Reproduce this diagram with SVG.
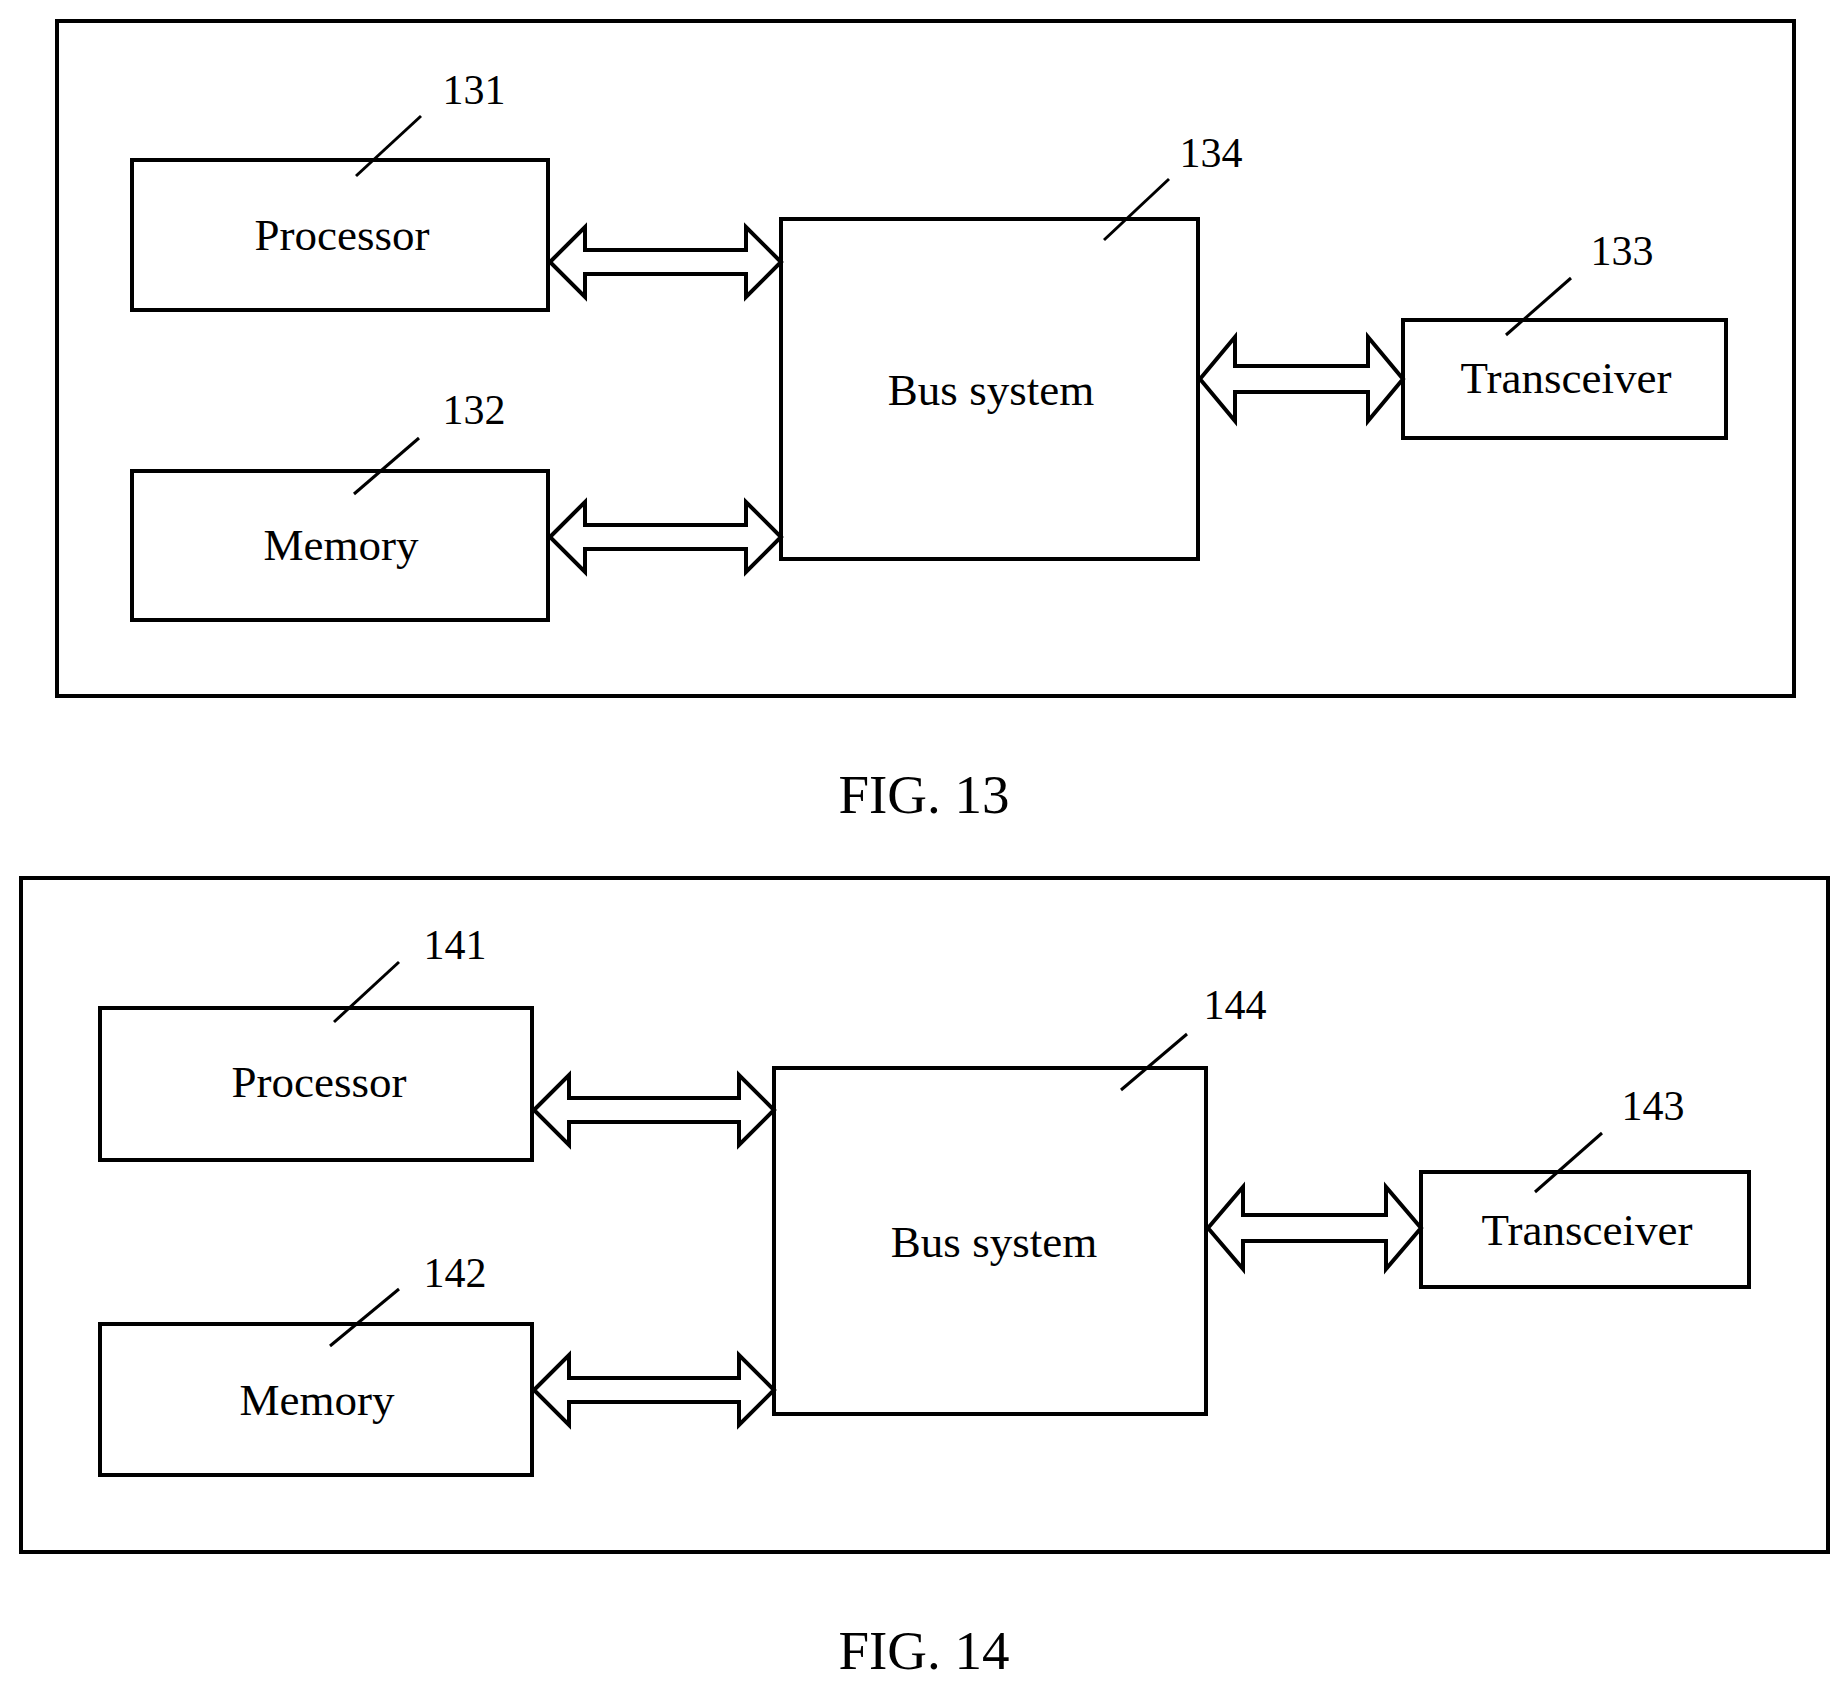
<svg xmlns="http://www.w3.org/2000/svg" width="1843" height="1686" viewBox="0 0 1843 1686">
<style>
rect{fill:#fff;stroke:#000;stroke-width:4}
.l{stroke:#000;stroke-width:3;fill:none}
.a{fill:#fff;stroke:#000;stroke-width:4;stroke-linejoin:miter}
text{font-family:"Liberation Serif",serif;fill:#000;text-anchor:middle}
.t{font-size:45px}.n{font-size:42px}.f{font-size:55px}
</style>
<rect width="1843" height="1686" style="fill:#fff;stroke:none"/>
<g id="frame13"><rect x="57" y="21" width="1737" height="675"/></g>
<g id="p131"><rect x="132" y="160" width="416" height="150"/><text class="t" x="342" y="250">Processor</text><text class="n" x="474" y="104">131</text><line class="l" x1="356" y1="176" x2="421" y2="116"/></g>
<g id="m132"><rect x="132" y="471" width="416" height="149"/><text class="t" x="341" y="560">Memory</text><text class="n" x="474" y="424">132</text><line class="l" x1="354" y1="494" x2="419" y2="438"/></g>
<g id="b134"><rect x="781" y="219" width="417" height="340"/><text class="t" x="991" y="405">Bus system</text><text class="n" x="1211" y="167">134</text><line class="l" x1="1104" y1="240" x2="1169" y2="179"/></g>
<g id="t133"><rect x="1403" y="320" width="323" height="118"/><text class="t" x="1566" y="393">Transceiver</text><text class="n" x="1622" y="265">133</text><line class="l" x1="1506" y1="335" x2="1571" y2="278"/></g>
<g id="frame14"><rect x="21" y="878" width="1807" height="674"/></g>
<g id="p141"><rect x="100" y="1008" width="432" height="152"/><text class="t" x="319" y="1097">Processor</text><text class="n" x="455" y="959">141</text><line class="l" x1="334" y1="1022" x2="399" y2="962"/></g>
<g id="m142"><rect x="100" y="1324" width="432" height="151"/><text class="t" x="317" y="1415">Memory</text><text class="n" x="455" y="1287">142</text><line class="l" x1="330" y1="1346" x2="399" y2="1289"/></g>
<g id="b144"><rect x="774" y="1068" width="432" height="346"/><text class="t" x="994" y="1257">Bus system</text><text class="n" x="1235" y="1019">144</text><line class="l" x1="1121" y1="1090" x2="1187" y2="1034"/></g>
<g id="t143"><rect x="1421" y="1172" width="328" height="115"/><text class="t" x="1587" y="1245">Transceiver</text><text class="n" x="1653" y="1120">143</text><line class="l" x1="1535" y1="1192" x2="1602" y2="1133"/></g>
<g id="connectors">
<path class="a" d="M550 262 L585 227 L585 250 L746 250 L746 227 L781 262 L746 297 L746 274 L585 274 L585 297 Z"/>
<path class="a" d="M550 537 L585 502 L585 525 L746 525 L746 502 L781 537 L746 572 L746 549 L585 549 L585 572 Z"/>
<path class="a" d="M1200 379 L1235 337 L1235 366 L1368 366 L1368 337 L1403 379 L1368 421 L1368 392 L1235 392 L1235 421 Z"/>
<path class="a" d="M534 1110 L569 1075 L569 1098 L739 1098 L739 1075 L774 1110 L739 1145 L739 1122 L569 1122 L569 1145 Z"/>
<path class="a" d="M534 1390 L569 1355 L569 1378 L739 1378 L739 1355 L774 1390 L739 1425 L739 1402 L569 1402 L569 1425 Z"/>
<path class="a" d="M1208 1228 L1243 1187 L1243 1215 L1386 1215 L1386 1187 L1421 1228 L1386 1269 L1386 1241 L1243 1241 L1243 1269 Z"/>
</g>
<text class="f" x="924" y="813">FIG. 13</text>
<text class="f" x="924" y="1669">FIG. 14</text>
</svg>
